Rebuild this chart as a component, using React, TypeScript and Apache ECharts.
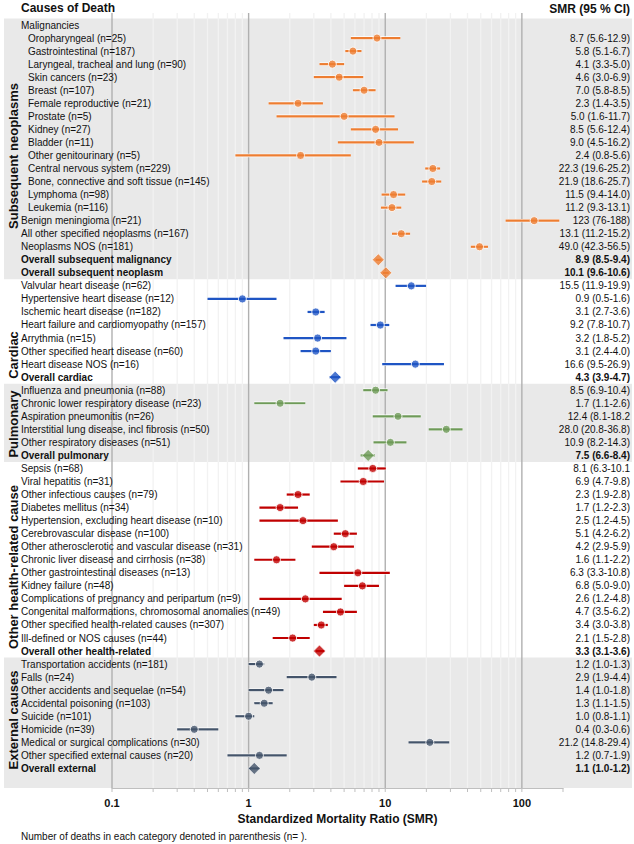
import React, { useEffect, useRef } from 'react';
import * as echarts from 'echarts';

// ---------- data ----------
const rowLabels = [
  'Malignancies',
  'Oropharyngeal (n=25)',
  'Gastrointestinal (n=187)',
  'Laryngeal, tracheal and lung (n=90)',
  'Skin cancers (n=23)',
  'Breast (n=107)',
  'Female reproductive (n=21)',
  'Prostate (n=5)',
  'Kidney (n=27)',
  'Bladder (n=11)',
  'Other genitourinary (n=5)',
  'Central nervous system (n=229)',
  'Bone, connective and soft tissue (n=145)',
  'Lymphoma (n=98)',
  'Leukemia (n=116)',
  'Benign meningioma (n=21)',
  'All other specified neoplasms (n=167)',
  'Neoplasms NOS (n=181)',
  'Overall subsequent malignancy',
  'Overall subsequent neoplasm',
  'Valvular heart disease (n=62)',
  'Hypertensive heart disease (n=12)',
  'Ischemic heart disease (n=182)',
  'Heart failure and cardiomyopathy (n=157)',
  'Arrythmia (n=15)',
  'Other specified heart disease (n=60)',
  'Heart disease NOS (n=16)',
  'Overall cardiac',
  'Influenza and pneumonia (n=88)',
  'Chronic lower respiratory disease (n=23)',
  'Aspiration pneumonitis (n=26)',
  'Interstitial lung disease, incl fibrosis (n=50)',
  'Other respiratory diseases (n=51)',
  'Overall pulmonary',
  'Sepsis (n=68)',
  'Viral hepatitis (n=31)',
  'Other infectious causes (n=79)',
  'Diabetes mellitus (n=34)',
  'Hypertension, excluding heart disease (n=10)',
  'Cerebrovascular disease (n=100)',
  'Other atherosclerotic and vascular disease (n=31)',
  'Chronic liver disease and cirrhosis (n=38)',
  'Other gastrointestinal diseases (n=13)',
  'Kidney failure (n=48)',
  'Complications of pregnancy and peripartum (n=9)',
  'Congenital malformations, chromosomal anomalies (n=49)',
  'Other specified health-related causes (n=307)',
  'Ill-defined or NOS causes (n=44)',
  'Overall other health-related',
  'Transportation accidents (n=181)',
  'Falls (n=24)',
  'Other accidents and sequelae (n=54)',
  'Accidental poisoning (n=103)',
  'Suicide (n=101)',
  'Homicide (n=39)',
  'Medical or surgical complications (n=30)',
  'Other specified external causes (n=20)',
  'Overall external',
];

const smrValues = [
  null, 8.7, 5.8, 4.1, 4.6, 7.0, 2.3, 5.0, 8.5, 9.0, 2.4, 22.3, 21.9, 11.5, 11.2, 123, 13.1, 49.0, 8.9, 10.1,
  15.5, 0.9, 3.1, 9.2, 3.2, 3.1, 16.6, 4.3,
  8.5, 1.7, 12.4, 28.0, 10.9, 7.5,
  8.1, 6.9, 2.3, 1.7, 2.5, 5.1, 4.2, 1.6, 6.3, 6.8, 2.6, 4.7, 3.4, 2.1, 3.3,
  1.2, 2.9, 1.4, 1.3, 1.0, 0.4, 21.2, 1.2, 1.1,
];

const ciLower = [
  null, 5.6, 5.1, 3.3, 3.0, 5.8, 1.4, 1.6, 5.6, 4.5, 0.8, 19.6, 18.6, 9.4, 9.3, 76, 11.2, 42.3, 8.5, 9.6,
  11.9, 0.5, 2.7, 7.8, 1.8, 2.4, 9.5, 3.9,
  6.9, 1.1, 8.1, 20.8, 8.2, 6.6,
  6.3, 4.7, 1.9, 1.2, 1.2, 4.2, 2.9, 1.1, 3.3, 5.0, 1.2, 3.5, 3.0, 1.5, 3.1,
  1.0, 1.9, 1.0, 1.1, 0.8, 0.3, 14.8, 0.7, 1.0,
];

const ciUpper = [
  null, 12.9, 6.7, 5.0, 6.9, 8.5, 3.5, 11.7, 12.4, 16.2, 5.6, 25.2, 25.7, 14.0, 13.1, 188, 15.2, 56.5, 9.4, 10.6,
  19.9, 1.6, 3.6, 10.7, 5.2, 4.0, 26.9, 4.7,
  10.4, 2.6, 18.2, 36.8, 14.3, 8.4,
  10.1, 9.8, 2.8, 2.3, 4.5, 6.2, 5.9, 2.2, 10.8, 9.0, 4.8, 6.2, 3.8, 2.8, 3.6,
  1.3, 4.4, 1.8, 1.5, 1.1, 0.6, 29.4, 1.9, 1.2,
];

const ciText = [
  '',
  '8.7 (5.6-12.9)', '5.8 (5.1-6.7)', '4.1 (3.3-5.0)', '4.6 (3.0-6.9)', '7.0 (5.8-8.5)',
  '2.3 (1.4-3.5)', '5.0 (1.6-11.7)', '8.5 (5.6-12.4)', '9.0 (4.5-16.2)', '2.4 (0.8-5.6)',
  '22.3 (19.6-25.2)', '21.9 (18.6-25.7)', '11.5 (9.4-14.0)', '11.2 (9.3-13.1)', '123 (76-188)',
  '13.1 (11.2-15.2)', '49.0 (42.3-56.5)', '8.9 (8.5-9.4)', '10.1 (9.6-10.6)',
  '15.5 (11.9-19.9)', '0.9 (0.5-1.6)', '3.1 (2.7-3.6)', '9.2 (7.8-10.7)', '3.2 (1.8-5.2)',
  '3.1 (2.4-4.0)', '16.6 (9.5-26.9)', '4.3 (3.9-4.7)',
  '8.5 (6.9-10.4)', '1.7 (1.1-2.6)', '12.4 (8.1-18.2', '28.0 (20.8-36.8)', '10.9 (8.2-14.3)', '7.5 (6.6-8.4)',
  '8.1 (6.3-10.1', '6.9 (4.7-9.8)', '2.3 (1.9-2.8)', '1.7 (1.2-2.3)', '2.5 (1.2-4.5)', '5.1 (4.2-6.2)',
  '4.2 (2.9-5.9)', '1.6 (1.1-2.2)', '6.3 (3.3-10.8)', '6.8 (5.0-9.0)', '2.6 (1.2-4.8)', '4.7 (3.5-6.2)',
  '3.4 (3.0-3.8)', '2.1 (1.5-2.8)', '3.3 (3.1-3.6)',
  '1.2 (1.0-1.3)', '2.9 (1.9-4.4)', '1.4 (1.0-1.8)', '1.3 (1.1-1.5)', '1.0 (0.8-1.1)', '0.4 (0.3-0.6)',
  '21.2 (14.8-29.4)', '1.2 (0.7-1.9)', '1.1 (1.0-1.2)',
];

const sectionNames = ['Subsequent neoplasms', 'Cardiac', 'Pulmonary', 'Other health-related cause', 'External causes'];
const sectionFirstRow = [0, 20, 28, 34, 49];
const sectionLastRow = [19, 27, 33, 48, 57];
const sectionShaded = [true, false, true, false, true];
const indentedRows = [1, 2, 3, 4, 5, 6, 7, 8, 9, 10, 11, 12, 13, 14];
const overallRows = [18, 19, 27, 33, 48, 57];
const tickLabels = ['0.1', '1', '10', '100'];

// ---------- styling ----------
const groupColors = ['#ED7D31', '#1F55C4', '#6E9A58', '#C00000', '#44546A'];
const sectionLabelY = [156, 355, 424, 567, 720];
const FONT = '"Liberation Sans", Arial, sans-serif';
const TEXT = '#111111';

export default function App() {
  const ref = useRef<HTMLDivElement>(null);

  useEffect(() => {
    document.body.style.margin = '0';
    if (!ref.current) return;
    const chart = echarts.init(ref.current, undefined, { renderer: 'svg' });

    const nRows = rowLabels.length;
    const catCount = nRows + 1;
    const groupOf = (i: number) => {
      for (let s = 0; s < sectionFirstRow.length; s++) {
        if (i >= sectionFirstRow[s] && i <= sectionLastRow[s]) return s;
      }
      return 0;
    };

    const leftData = [...rowLabels, ''];
    const rightData = [...ciText, ''];

    const bandData: number[][] = [];
    sectionShaded.forEach((sh, s) => {
      if (!sh) return;
      const last = s === sectionShaded.length - 1 ? nRows : sectionLastRow[s];
      bandData.push([1, sectionFirstRow[s], last]);
    });

    // axis gridline positions (axis decoration)
    const gridData: number[][] = [];
    [0.1, 1, 10].forEach((d) => {
      for (let m = 1; m <= 9; m++) gridData.push([+(d * m).toPrecision(3), m === 1 ? 1 : 0, 1]);
    });
    gridData.push([100, 1, 1]);
    gridData.push([200, 0, 0]);

    const errData: number[][] = [];
    const pointData: any[] = [];
    smrValues.forEach((v, i) => {
      if (v == null) return;
      const g = groupOf(i);
      errData.push([ciLower[i] as number, ciUpper[i] as number, i, g]);
      const overall = overallRows.includes(i);
      pointData.push({
        value: [v, i],
        symbol: overall ? 'diamond' : 'circle',
        symbolSize: overall ? 12 : 8,
        itemStyle: { color: groupColors[g], borderColor: '#ffffff', borderWidth: overall ? 0.8 : 1 },
      });
    });

    const option: any = {
      animation: false,
      textStyle: { fontFamily: FONT },
      grid: { left: 112, right: 71, top: 18.5, bottom: 56 },
      xAxis: {
        type: 'log',
        logBase: 10,
        min: 0.1,
        max: 200,
        z: 10,
        axisLine: { show: true, lineStyle: { color: '#bfbfbf', width: 1 } },
        axisTick: { show: false },
        splitLine: { show: false },
        minorSplitLine: { show: false },
        axisLabel: {
          margin: 9,
          fontSize: 11,
          fontWeight: 'bold',
          color: TEXT,
          fontFamily: FONT,
          showMaxLabel: false,
          formatter: (v: number) => {
            const s = String(+v.toPrecision(3));
            return tickLabels.includes(s) ? s : '';
          },
        },
        name: 'Standardized Mortality Ratio (SMR)',
        nameLocation: 'middle',
        nameGap: 25,
        nameTextStyle: { fontSize: 12, fontWeight: 'bold', color: TEXT, fontFamily: FONT },
      },
      yAxis: [
        {
          type: 'category',
          data: leftData,
          inverse: true,
          z: 10,
          axisLine: { show: false },
          axisTick: { show: false },
          splitLine: { show: false },
          axisLabel: {
            interval: 0,
            align: 'left',
            margin: 91,
            formatter: (v: string, i: number) => {
              if (!v) return '';
              if (overallRows.includes(i)) return `{b|${v}}`;
              if (indentedRows.includes(i)) return `{i|${v}}`;
              return `{n|${v}}`;
            },
            rich: {
              n: { fontSize: 10, color: TEXT, fontFamily: FONT },
              i: { fontSize: 10, color: TEXT, fontFamily: FONT, padding: [0, 0, 0, 7] },
              b: { fontSize: 10, color: TEXT, fontFamily: FONT, fontWeight: 'bold' },
            },
          },
        },
        {
          type: 'category',
          data: rightData,
          inverse: true,
          position: 'right',
          z: 10,
          axisLine: { show: false },
          axisTick: { show: false },
          splitLine: { show: false },
          axisLabel: {
            interval: 0,
            align: 'right',
            margin: 67,
            formatter: (v: string, i: number) => {
              if (!v) return '';
              return overallRows.includes(i) ? `{b|${v}}` : `{n|${v}}`;
            },
            rich: {
              n: { fontSize: 10, color: TEXT, fontFamily: FONT },
              b: { fontSize: 10, color: TEXT, fontFamily: FONT, fontWeight: 'bold' },
            },
          },
        },
      ],
      series: [
        {
          type: 'custom',
          name: 'bands',
          z: 1,
          silent: true,
          clip: false,
          data: bandData,
          encode: { x: 0, y: [1, 2] },
          renderItem: (params: any, api: any) => {
            const cs = params.coordSys;
            const rowH = cs.height / catCount;
            const y0 = api.coord([1, api.value(1)])[1] - rowH / 2;
            const y1 = api.coord([1, api.value(2)])[1] + rowH / 2;
            return {
              type: 'rect',
              shape: { x: 4, y: y0, width: api.getWidth() - 6, height: y1 - y0 },
              style: { fill: '#e9e9e9' },
            };
          },
        },
        {
          type: 'custom',
          name: 'gridlines',
          z: 2,
          silent: true,
          clip: false,
          data: gridData,
          encode: { x: 0 },
          renderItem: (params: any, api: any) => {
            const cs = params.coordSys;
            const x = api.coord([api.value(0), 0])[0];
            const major = api.value(1) === 1;
            const show = api.value(2) === 1;
            const bottom = cs.y + cs.height;
            const children: any[] = [];
            if (show) {
              children.push({
                type: 'line',
                shape: { x1: x, y1: cs.y - 5.5, x2: x, y2: bottom },
                style: { stroke: major ? '#b0b0b0' : '#f2f2f2', lineWidth: major ? 1.4 : 1.3 },
              });
            }
            children.push({
              type: 'line',
              shape: { x1: x, y1: bottom, x2: x, y2: bottom + 4 },
              style: { stroke: '#bfbfbf', lineWidth: 1 },
            });
            return { type: 'group', children };
          },
        },
        {
          type: 'custom',
          name: 'ci',
          z: 3,
          silent: true,
          clip: false,
          data: errData,
          encode: { x: [0, 1], y: 2 },
          renderItem: (params: any, api: any) => {
            const idx = api.value(2);
            const a = api.coord([api.value(0), idx]);
            const b = api.coord([api.value(1), idx]);
            const color = groupColors[api.value(3)];
            const shape = { x1: a[0], y1: a[1], x2: b[0], y2: b[1] };
            return {
              type: 'group',
              children: [
                { type: 'line', shape, style: { stroke: '#ffffff', lineWidth: 3.4 } },
                { type: 'line', shape, style: { stroke: color, lineWidth: 2.2 } },
              ],
            };
          },
        },
        {
          type: 'scatter',
          name: 'SMR',
          z: 4,
          silent: true,
          data: pointData,
        },
      ],
      graphic: [
        {
          type: 'text',
          z: 20,
          left: 21,
          top: 2,
          style: { text: 'Causes of Death', font: `bold 12px ${FONT}`, fill: TEXT },
        },
        {
          type: 'text',
          z: 20,
          right: 4,
          top: 3,
          style: { text: 'SMR (95 % CI)', font: `bold 12px ${FONT}`, fill: TEXT },
        },
        ...sectionNames.map((name, s) => ({
          type: 'text',
          z: 20,
          x: 13,
          y: sectionLabelY[s],
          rotation: Math.PI / 2,
          style: {
            text: name,
            font: `bold 13px ${FONT}`,
            fill: TEXT,
            align: 'center',
            verticalAlign: 'middle',
          },
        })),
        {
          type: 'text',
          z: 20,
          left: 21,
          top: 831,
          style: {
            text: 'Number of deaths in each category denoted in parenthesis (n= ).',
            font: `10px ${FONT}`,
            fill: TEXT,
          },
        },
      ],
    };

    chart.setOption(option);
    return () => chart.dispose();
  }, []);

  return <div ref={ref} style={{ width: 634, height: 844 }} />;
}
